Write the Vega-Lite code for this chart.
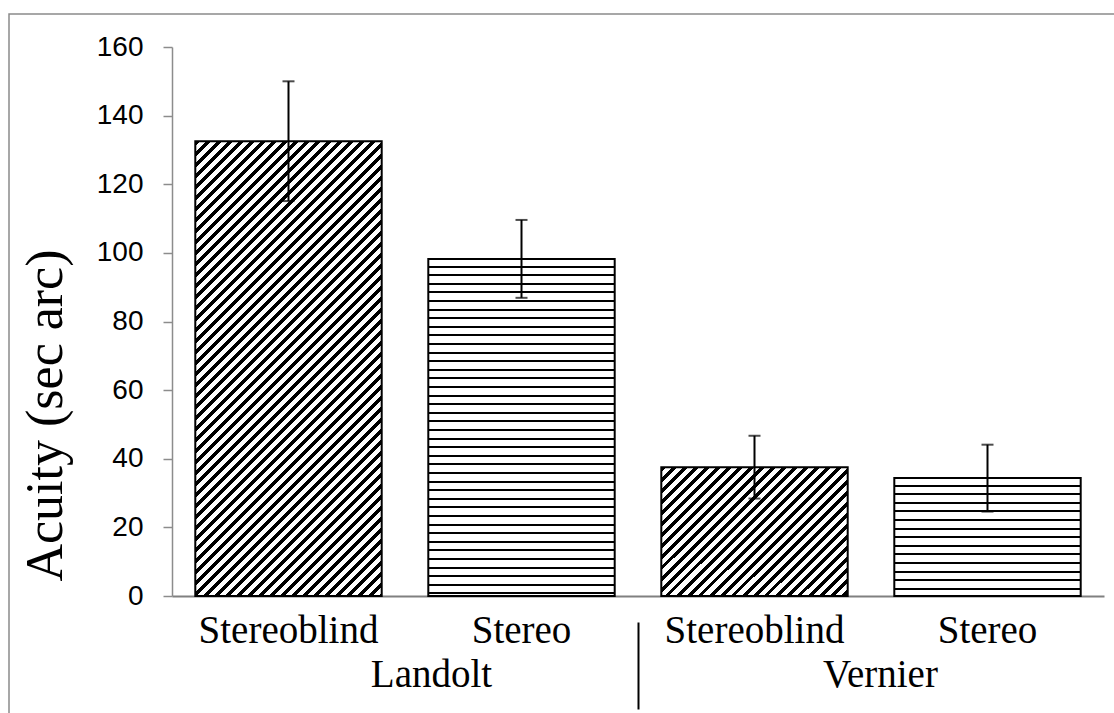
{
  "$schema": "https://vega.github.io/schema/vega-lite/v6.json",
  "width": 1106,
  "height": 700,
  "autosize": "none",
  "padding": {"left": 9, "top": 14, "right": 0, "bottom": 0},
  "background": "white",
  "config": {"view": {"stroke": "#8a8a8a", "strokeWidth": 1.5}},
  "layer": [
    {
      "data": {"values": [
        {"key": "Landolt|Stereoblind", "group": "Landolt", "cond": "Stereoblind", "mean": 132.5, "lo": 115.1, "hi": 150.0},
        {"key": "Landolt|Stereo", "group": "Landolt", "cond": "Stereo", "mean": 98.2, "lo": 86.9, "hi": 109.6},
        {"key": "Vernier|Stereoblind", "group": "Vernier", "cond": "Stereoblind", "mean": 37.5, "lo": 28.4, "hi": 46.7},
        {"key": "Vernier|Stereo", "group": "Vernier", "cond": "Stereo", "mean": 34.4, "lo": 24.6, "hi": 44.1}
      ]},
      "encoding": {
        "x": {"field": "key", "type": "nominal", "sort": null,
          "scale": {"range": [163, 1095], "paddingInner": 0.2, "paddingOuter": 0.1},
          "axis": {"orient": "bottom", "offset": -118, "title": null, "ticks": false, "domainColor": "#808080", "domainWidth": 2,
            "labelFont": "Liberation Serif", "labelFontSize": 39, "labelColor": "black", "labelPadding": 15, "labelAngle": 0,
            "labelExpr": "split(datum.label, '|')[1]"}},
        "y": {"field": "mean", "type": "quantitative",
          "scale": {"domain": [0, 160], "range": [582, 33], "nice": false},
          "axis": {"orient": "left", "offset": -163, "values": [0, 20, 40, 60, 80, 100, 120, 140, 160], "grid": false,
            "domainColor": "#8c8c8c", "domainWidth": 1.5, "tickColor": "#8c8c8c", "tickWidth": 1.5, "tickSize": 9,
            "labelFont": "Liberation Sans", "labelFontSize": 28, "labelColor": "black", "labelPadding": 20,
            "title": "Acuity (sec arc)", "titleFont": "Liberation Serif", "titleFontSize": 52, "titleFontWeight": "normal", "titleColor": "black",
            "titleX": -127, "titleY": 401, "titleAngle": -90, "titleAlign": "center", "titleBaseline": "middle"}}
      },
      "layer": [
        {
          "transform": [{"filter": "datum.key == 'Landolt|Stereoblind'"}],
          "mark": {"type": "bar", "stroke": "black", "strokeWidth": 2,
            "fill": {"gradient": "linear", "x1": 0, "y1": 0, "x2": 0.5096, "y2": 1.2429, "stops": [
{"offset":0,"color":"#000"},{"offset":0.0067,"color":"#000"},{"offset":0.0067,"color":"#fff"},{"offset":0.0167,"color":"#fff"},
{"offset":0.0167,"color":"#000"},{"offset":0.0233,"color":"#000"},{"offset":0.0233,"color":"#fff"},{"offset":0.0333,"color":"#fff"},
{"offset":0.0333,"color":"#000"},{"offset":0.04,"color":"#000"},{"offset":0.04,"color":"#fff"},{"offset":0.05,"color":"#fff"},
{"offset":0.05,"color":"#000"},{"offset":0.0567,"color":"#000"},{"offset":0.0567,"color":"#fff"},{"offset":0.0667,"color":"#fff"},
{"offset":0.0667,"color":"#000"},{"offset":0.0733,"color":"#000"},{"offset":0.0733,"color":"#fff"},{"offset":0.0833,"color":"#fff"},
{"offset":0.0833,"color":"#000"},{"offset":0.09,"color":"#000"},{"offset":0.09,"color":"#fff"},{"offset":0.1,"color":"#fff"},
{"offset":0.1,"color":"#000"},{"offset":0.1067,"color":"#000"},{"offset":0.1067,"color":"#fff"},{"offset":0.1167,"color":"#fff"},
{"offset":0.1167,"color":"#000"},{"offset":0.1233,"color":"#000"},{"offset":0.1233,"color":"#fff"},{"offset":0.1333,"color":"#fff"},
{"offset":0.1333,"color":"#000"},{"offset":0.14,"color":"#000"},{"offset":0.14,"color":"#fff"},{"offset":0.15,"color":"#fff"},
{"offset":0.15,"color":"#000"},{"offset":0.1567,"color":"#000"},{"offset":0.1567,"color":"#fff"},{"offset":0.1667,"color":"#fff"},
{"offset":0.1667,"color":"#000"},{"offset":0.1733,"color":"#000"},{"offset":0.1733,"color":"#fff"},{"offset":0.1833,"color":"#fff"},
{"offset":0.1833,"color":"#000"},{"offset":0.19,"color":"#000"},{"offset":0.19,"color":"#fff"},{"offset":0.2,"color":"#fff"},
{"offset":0.2,"color":"#000"},{"offset":0.2067,"color":"#000"},{"offset":0.2067,"color":"#fff"},{"offset":0.2167,"color":"#fff"},
{"offset":0.2167,"color":"#000"},{"offset":0.2233,"color":"#000"},{"offset":0.2233,"color":"#fff"},{"offset":0.2333,"color":"#fff"},
{"offset":0.2333,"color":"#000"},{"offset":0.24,"color":"#000"},{"offset":0.24,"color":"#fff"},{"offset":0.25,"color":"#fff"},
{"offset":0.25,"color":"#000"},{"offset":0.2567,"color":"#000"},{"offset":0.2567,"color":"#fff"},{"offset":0.2667,"color":"#fff"},
{"offset":0.2667,"color":"#000"},{"offset":0.2733,"color":"#000"},{"offset":0.2733,"color":"#fff"},{"offset":0.2833,"color":"#fff"},
{"offset":0.2833,"color":"#000"},{"offset":0.29,"color":"#000"},{"offset":0.29,"color":"#fff"},{"offset":0.3,"color":"#fff"},
{"offset":0.3,"color":"#000"},{"offset":0.3067,"color":"#000"},{"offset":0.3067,"color":"#fff"},{"offset":0.3167,"color":"#fff"},
{"offset":0.3167,"color":"#000"},{"offset":0.3233,"color":"#000"},{"offset":0.3233,"color":"#fff"},{"offset":0.3333,"color":"#fff"},
{"offset":0.3333,"color":"#000"},{"offset":0.34,"color":"#000"},{"offset":0.34,"color":"#fff"},{"offset":0.35,"color":"#fff"},
{"offset":0.35,"color":"#000"},{"offset":0.3567,"color":"#000"},{"offset":0.3567,"color":"#fff"},{"offset":0.3667,"color":"#fff"},
{"offset":0.3667,"color":"#000"},{"offset":0.3733,"color":"#000"},{"offset":0.3733,"color":"#fff"},{"offset":0.3833,"color":"#fff"},
{"offset":0.3833,"color":"#000"},{"offset":0.39,"color":"#000"},{"offset":0.39,"color":"#fff"},{"offset":0.4,"color":"#fff"},
{"offset":0.4,"color":"#000"},{"offset":0.4067,"color":"#000"},{"offset":0.4067,"color":"#fff"},{"offset":0.4167,"color":"#fff"},
{"offset":0.4167,"color":"#000"},{"offset":0.4233,"color":"#000"},{"offset":0.4233,"color":"#fff"},{"offset":0.4333,"color":"#fff"},
{"offset":0.4333,"color":"#000"},{"offset":0.44,"color":"#000"},{"offset":0.44,"color":"#fff"},{"offset":0.45,"color":"#fff"},
{"offset":0.45,"color":"#000"},{"offset":0.4567,"color":"#000"},{"offset":0.4567,"color":"#fff"},{"offset":0.4667,"color":"#fff"},
{"offset":0.4667,"color":"#000"},{"offset":0.4733,"color":"#000"},{"offset":0.4733,"color":"#fff"},{"offset":0.4833,"color":"#fff"},
{"offset":0.4833,"color":"#000"},{"offset":0.49,"color":"#000"},{"offset":0.49,"color":"#fff"},{"offset":0.5,"color":"#fff"},
{"offset":0.5,"color":"#000"},{"offset":0.5067,"color":"#000"},{"offset":0.5067,"color":"#fff"},{"offset":0.5167,"color":"#fff"},
{"offset":0.5167,"color":"#000"},{"offset":0.5233,"color":"#000"},{"offset":0.5233,"color":"#fff"},{"offset":0.5333,"color":"#fff"},
{"offset":0.5333,"color":"#000"},{"offset":0.54,"color":"#000"},{"offset":0.54,"color":"#fff"},{"offset":0.55,"color":"#fff"},
{"offset":0.55,"color":"#000"},{"offset":0.5567,"color":"#000"},{"offset":0.5567,"color":"#fff"},{"offset":0.5667,"color":"#fff"},
{"offset":0.5667,"color":"#000"},{"offset":0.5733,"color":"#000"},{"offset":0.5733,"color":"#fff"},{"offset":0.5833,"color":"#fff"},
{"offset":0.5833,"color":"#000"},{"offset":0.59,"color":"#000"},{"offset":0.59,"color":"#fff"},{"offset":0.6,"color":"#fff"},
{"offset":0.6,"color":"#000"},{"offset":0.6067,"color":"#000"},{"offset":0.6067,"color":"#fff"},{"offset":0.6167,"color":"#fff"},
{"offset":0.6167,"color":"#000"},{"offset":0.6233,"color":"#000"},{"offset":0.6233,"color":"#fff"},{"offset":0.6333,"color":"#fff"},
{"offset":0.6333,"color":"#000"},{"offset":0.64,"color":"#000"},{"offset":0.64,"color":"#fff"},{"offset":0.65,"color":"#fff"},
{"offset":0.65,"color":"#000"},{"offset":0.6567,"color":"#000"},{"offset":0.6567,"color":"#fff"},{"offset":0.6667,"color":"#fff"},
{"offset":0.6667,"color":"#000"},{"offset":0.6733,"color":"#000"},{"offset":0.6733,"color":"#fff"},{"offset":0.6833,"color":"#fff"},
{"offset":0.6833,"color":"#000"},{"offset":0.69,"color":"#000"},{"offset":0.69,"color":"#fff"},{"offset":0.7,"color":"#fff"},
{"offset":0.7,"color":"#000"},{"offset":0.7067,"color":"#000"},{"offset":0.7067,"color":"#fff"},{"offset":0.7167,"color":"#fff"},
{"offset":0.7167,"color":"#000"},{"offset":0.7233,"color":"#000"},{"offset":0.7233,"color":"#fff"},{"offset":0.7333,"color":"#fff"},
{"offset":0.7333,"color":"#000"},{"offset":0.74,"color":"#000"},{"offset":0.74,"color":"#fff"},{"offset":0.75,"color":"#fff"},
{"offset":0.75,"color":"#000"},{"offset":0.7567,"color":"#000"},{"offset":0.7567,"color":"#fff"},{"offset":0.7667,"color":"#fff"},
{"offset":0.7667,"color":"#000"},{"offset":0.7733,"color":"#000"},{"offset":0.7733,"color":"#fff"},{"offset":0.7833,"color":"#fff"},
{"offset":0.7833,"color":"#000"},{"offset":0.79,"color":"#000"},{"offset":0.79,"color":"#fff"},{"offset":0.8,"color":"#fff"},
{"offset":0.8,"color":"#000"},{"offset":0.8067,"color":"#000"},{"offset":0.8067,"color":"#fff"},{"offset":0.8167,"color":"#fff"},
{"offset":0.8167,"color":"#000"},{"offset":0.8233,"color":"#000"},{"offset":0.8233,"color":"#fff"},{"offset":0.8333,"color":"#fff"},
{"offset":0.8333,"color":"#000"},{"offset":0.84,"color":"#000"},{"offset":0.84,"color":"#fff"},{"offset":0.85,"color":"#fff"},
{"offset":0.85,"color":"#000"},{"offset":0.8567,"color":"#000"},{"offset":0.8567,"color":"#fff"},{"offset":0.8667,"color":"#fff"},
{"offset":0.8667,"color":"#000"},{"offset":0.8733,"color":"#000"},{"offset":0.8733,"color":"#fff"},{"offset":0.8833,"color":"#fff"},
{"offset":0.8833,"color":"#000"},{"offset":0.89,"color":"#000"},{"offset":0.89,"color":"#fff"},{"offset":0.9,"color":"#fff"},
{"offset":0.9,"color":"#000"},{"offset":0.9067,"color":"#000"},{"offset":0.9067,"color":"#fff"},{"offset":0.9167,"color":"#fff"},
{"offset":0.9167,"color":"#000"},{"offset":0.9233,"color":"#000"},{"offset":0.9233,"color":"#fff"},{"offset":0.9333,"color":"#fff"},
{"offset":0.9333,"color":"#000"},{"offset":0.94,"color":"#000"},{"offset":0.94,"color":"#fff"},{"offset":0.95,"color":"#fff"},
{"offset":0.95,"color":"#000"},{"offset":0.9567,"color":"#000"},{"offset":0.9567,"color":"#fff"},{"offset":0.9667,"color":"#fff"},
{"offset":0.9667,"color":"#000"},{"offset":0.9733,"color":"#000"},{"offset":0.9733,"color":"#fff"},{"offset":0.9833,"color":"#fff"},
{"offset":0.9833,"color":"#000"},{"offset":0.99,"color":"#000"},{"offset":0.99,"color":"#fff"},{"offset":1,"color":"#fff"}
            ]}}
        },
        {
          "transform": [{"filter": "datum.key == 'Landolt|Stereo'"}],
          "mark": {"type": "bar", "stroke": "black", "strokeWidth": 2,
            "fill": {"gradient": "linear", "x1": 0, "y1": 0, "x2": 0, "y2": 1.021, "stops": [
{"offset":0,"color":"#fff"},
{"offset":0.019,"color":"#fff"},{"offset":0.019,"color":"#000"},{"offset":0.025,"color":"#000"},{"offset":0.025,"color":"#fff"},
{"offset":0.044,"color":"#fff"},{"offset":0.044,"color":"#000"},{"offset":0.05,"color":"#000"},{"offset":0.05,"color":"#fff"},
{"offset":0.069,"color":"#fff"},{"offset":0.069,"color":"#000"},{"offset":0.075,"color":"#000"},{"offset":0.075,"color":"#fff"},
{"offset":0.094,"color":"#fff"},{"offset":0.094,"color":"#000"},{"offset":0.1,"color":"#000"},{"offset":0.1,"color":"#fff"},
{"offset":0.119,"color":"#fff"},{"offset":0.119,"color":"#000"},{"offset":0.125,"color":"#000"},{"offset":0.125,"color":"#fff"},
{"offset":0.144,"color":"#fff"},{"offset":0.144,"color":"#000"},{"offset":0.15,"color":"#000"},{"offset":0.15,"color":"#fff"},
{"offset":0.169,"color":"#fff"},{"offset":0.169,"color":"#000"},{"offset":0.175,"color":"#000"},{"offset":0.175,"color":"#fff"},
{"offset":0.194,"color":"#fff"},{"offset":0.194,"color":"#000"},{"offset":0.2,"color":"#000"},{"offset":0.2,"color":"#fff"},
{"offset":0.219,"color":"#fff"},{"offset":0.219,"color":"#000"},{"offset":0.225,"color":"#000"},{"offset":0.225,"color":"#fff"},
{"offset":0.244,"color":"#fff"},{"offset":0.244,"color":"#000"},{"offset":0.25,"color":"#000"},{"offset":0.25,"color":"#fff"},
{"offset":0.269,"color":"#fff"},{"offset":0.269,"color":"#000"},{"offset":0.275,"color":"#000"},{"offset":0.275,"color":"#fff"},
{"offset":0.294,"color":"#fff"},{"offset":0.294,"color":"#000"},{"offset":0.3,"color":"#000"},{"offset":0.3,"color":"#fff"},
{"offset":0.319,"color":"#fff"},{"offset":0.319,"color":"#000"},{"offset":0.325,"color":"#000"},{"offset":0.325,"color":"#fff"},
{"offset":0.344,"color":"#fff"},{"offset":0.344,"color":"#000"},{"offset":0.35,"color":"#000"},{"offset":0.35,"color":"#fff"},
{"offset":0.369,"color":"#fff"},{"offset":0.369,"color":"#000"},{"offset":0.375,"color":"#000"},{"offset":0.375,"color":"#fff"},
{"offset":0.394,"color":"#fff"},{"offset":0.394,"color":"#000"},{"offset":0.4,"color":"#000"},{"offset":0.4,"color":"#fff"},
{"offset":0.419,"color":"#fff"},{"offset":0.419,"color":"#000"},{"offset":0.425,"color":"#000"},{"offset":0.425,"color":"#fff"},
{"offset":0.444,"color":"#fff"},{"offset":0.444,"color":"#000"},{"offset":0.45,"color":"#000"},{"offset":0.45,"color":"#fff"},
{"offset":0.469,"color":"#fff"},{"offset":0.469,"color":"#000"},{"offset":0.475,"color":"#000"},{"offset":0.475,"color":"#fff"},
{"offset":0.494,"color":"#fff"},{"offset":0.494,"color":"#000"},{"offset":0.5,"color":"#000"},{"offset":0.5,"color":"#fff"},
{"offset":0.519,"color":"#fff"},{"offset":0.519,"color":"#000"},{"offset":0.525,"color":"#000"},{"offset":0.525,"color":"#fff"},
{"offset":0.544,"color":"#fff"},{"offset":0.544,"color":"#000"},{"offset":0.55,"color":"#000"},{"offset":0.55,"color":"#fff"},
{"offset":0.569,"color":"#fff"},{"offset":0.569,"color":"#000"},{"offset":0.575,"color":"#000"},{"offset":0.575,"color":"#fff"},
{"offset":0.594,"color":"#fff"},{"offset":0.594,"color":"#000"},{"offset":0.6,"color":"#000"},{"offset":0.6,"color":"#fff"},
{"offset":0.619,"color":"#fff"},{"offset":0.619,"color":"#000"},{"offset":0.625,"color":"#000"},{"offset":0.625,"color":"#fff"},
{"offset":0.644,"color":"#fff"},{"offset":0.644,"color":"#000"},{"offset":0.65,"color":"#000"},{"offset":0.65,"color":"#fff"},
{"offset":0.669,"color":"#fff"},{"offset":0.669,"color":"#000"},{"offset":0.675,"color":"#000"},{"offset":0.675,"color":"#fff"},
{"offset":0.694,"color":"#fff"},{"offset":0.694,"color":"#000"},{"offset":0.7,"color":"#000"},{"offset":0.7,"color":"#fff"},
{"offset":0.719,"color":"#fff"},{"offset":0.719,"color":"#000"},{"offset":0.725,"color":"#000"},{"offset":0.725,"color":"#fff"},
{"offset":0.744,"color":"#fff"},{"offset":0.744,"color":"#000"},{"offset":0.75,"color":"#000"},{"offset":0.75,"color":"#fff"},
{"offset":0.769,"color":"#fff"},{"offset":0.769,"color":"#000"},{"offset":0.775,"color":"#000"},{"offset":0.775,"color":"#fff"},
{"offset":0.794,"color":"#fff"},{"offset":0.794,"color":"#000"},{"offset":0.8,"color":"#000"},{"offset":0.8,"color":"#fff"},
{"offset":0.819,"color":"#fff"},{"offset":0.819,"color":"#000"},{"offset":0.825,"color":"#000"},{"offset":0.825,"color":"#fff"},
{"offset":0.844,"color":"#fff"},{"offset":0.844,"color":"#000"},{"offset":0.85,"color":"#000"},{"offset":0.85,"color":"#fff"},
{"offset":0.869,"color":"#fff"},{"offset":0.869,"color":"#000"},{"offset":0.875,"color":"#000"},{"offset":0.875,"color":"#fff"},
{"offset":0.894,"color":"#fff"},{"offset":0.894,"color":"#000"},{"offset":0.9,"color":"#000"},{"offset":0.9,"color":"#fff"},
{"offset":0.919,"color":"#fff"},{"offset":0.919,"color":"#000"},{"offset":0.925,"color":"#000"},{"offset":0.925,"color":"#fff"},
{"offset":0.944,"color":"#fff"},{"offset":0.944,"color":"#000"},{"offset":0.95,"color":"#000"},{"offset":0.95,"color":"#fff"},
{"offset":0.969,"color":"#fff"},{"offset":0.969,"color":"#000"},{"offset":0.975,"color":"#000"},{"offset":0.975,"color":"#fff"},
{"offset":1,"color":"#fff"}
            ]}}
        },
        {
          "transform": [{"filter": "datum.key == 'Vernier|Stereoblind'"}],
          "mark": {"type": "bar", "stroke": "black", "strokeWidth": 2,
            "fill": {"gradient": "linear", "x1": 0, "y1": 0, "x2": 1.1989, "y2": 0.8278, "stops": [
{"offset":0,"color":"#000"},{"offset":0.0133,"color":"#000"},{"offset":0.0133,"color":"#fff"},{"offset":0.0333,"color":"#fff"},
{"offset":0.0333,"color":"#000"},{"offset":0.0467,"color":"#000"},{"offset":0.0467,"color":"#fff"},{"offset":0.0667,"color":"#fff"},
{"offset":0.0667,"color":"#000"},{"offset":0.08,"color":"#000"},{"offset":0.08,"color":"#fff"},{"offset":0.1,"color":"#fff"},
{"offset":0.1,"color":"#000"},{"offset":0.1133,"color":"#000"},{"offset":0.1133,"color":"#fff"},{"offset":0.1333,"color":"#fff"},
{"offset":0.1333,"color":"#000"},{"offset":0.1467,"color":"#000"},{"offset":0.1467,"color":"#fff"},{"offset":0.1667,"color":"#fff"},
{"offset":0.1667,"color":"#000"},{"offset":0.18,"color":"#000"},{"offset":0.18,"color":"#fff"},{"offset":0.2,"color":"#fff"},
{"offset":0.2,"color":"#000"},{"offset":0.2133,"color":"#000"},{"offset":0.2133,"color":"#fff"},{"offset":0.2333,"color":"#fff"},
{"offset":0.2333,"color":"#000"},{"offset":0.2467,"color":"#000"},{"offset":0.2467,"color":"#fff"},{"offset":0.2667,"color":"#fff"},
{"offset":0.2667,"color":"#000"},{"offset":0.28,"color":"#000"},{"offset":0.28,"color":"#fff"},{"offset":0.3,"color":"#fff"},
{"offset":0.3,"color":"#000"},{"offset":0.3133,"color":"#000"},{"offset":0.3133,"color":"#fff"},{"offset":0.3333,"color":"#fff"},
{"offset":0.3333,"color":"#000"},{"offset":0.3467,"color":"#000"},{"offset":0.3467,"color":"#fff"},{"offset":0.3667,"color":"#fff"},
{"offset":0.3667,"color":"#000"},{"offset":0.38,"color":"#000"},{"offset":0.38,"color":"#fff"},{"offset":0.4,"color":"#fff"},
{"offset":0.4,"color":"#000"},{"offset":0.4133,"color":"#000"},{"offset":0.4133,"color":"#fff"},{"offset":0.4333,"color":"#fff"},
{"offset":0.4333,"color":"#000"},{"offset":0.4467,"color":"#000"},{"offset":0.4467,"color":"#fff"},{"offset":0.4667,"color":"#fff"},
{"offset":0.4667,"color":"#000"},{"offset":0.48,"color":"#000"},{"offset":0.48,"color":"#fff"},{"offset":0.5,"color":"#fff"},
{"offset":0.5,"color":"#000"},{"offset":0.5133,"color":"#000"},{"offset":0.5133,"color":"#fff"},{"offset":0.5333,"color":"#fff"},
{"offset":0.5333,"color":"#000"},{"offset":0.5467,"color":"#000"},{"offset":0.5467,"color":"#fff"},{"offset":0.5667,"color":"#fff"},
{"offset":0.5667,"color":"#000"},{"offset":0.58,"color":"#000"},{"offset":0.58,"color":"#fff"},{"offset":0.6,"color":"#fff"},
{"offset":0.6,"color":"#000"},{"offset":0.6133,"color":"#000"},{"offset":0.6133,"color":"#fff"},{"offset":0.6333,"color":"#fff"},
{"offset":0.6333,"color":"#000"},{"offset":0.6467,"color":"#000"},{"offset":0.6467,"color":"#fff"},{"offset":0.6667,"color":"#fff"},
{"offset":0.6667,"color":"#000"},{"offset":0.68,"color":"#000"},{"offset":0.68,"color":"#fff"},{"offset":0.7,"color":"#fff"},
{"offset":0.7,"color":"#000"},{"offset":0.7133,"color":"#000"},{"offset":0.7133,"color":"#fff"},{"offset":0.7333,"color":"#fff"},
{"offset":0.7333,"color":"#000"},{"offset":0.7467,"color":"#000"},{"offset":0.7467,"color":"#fff"},{"offset":0.7667,"color":"#fff"},
{"offset":0.7667,"color":"#000"},{"offset":0.78,"color":"#000"},{"offset":0.78,"color":"#fff"},{"offset":0.8,"color":"#fff"},
{"offset":0.8,"color":"#000"},{"offset":0.8133,"color":"#000"},{"offset":0.8133,"color":"#fff"},{"offset":0.8333,"color":"#fff"},
{"offset":0.8333,"color":"#000"},{"offset":0.8467,"color":"#000"},{"offset":0.8467,"color":"#fff"},{"offset":0.8667,"color":"#fff"},
{"offset":0.8667,"color":"#000"},{"offset":0.88,"color":"#000"},{"offset":0.88,"color":"#fff"},{"offset":0.9,"color":"#fff"},
{"offset":0.9,"color":"#000"},{"offset":0.9133,"color":"#000"},{"offset":0.9133,"color":"#fff"},{"offset":0.9333,"color":"#fff"},
{"offset":0.9333,"color":"#000"},{"offset":0.9467,"color":"#000"},{"offset":0.9467,"color":"#fff"},{"offset":0.9667,"color":"#fff"},
{"offset":0.9667,"color":"#000"},{"offset":0.98,"color":"#000"},{"offset":0.98,"color":"#fff"},{"offset":1,"color":"#fff"}
            ]}}
        },
        {
          "transform": [{"filter": "datum.key == 'Vernier|Stereo'"}],
          "mark": {"type": "bar", "stroke": "black", "strokeWidth": 2,
            "fill": {"gradient": "linear", "x1": 0, "y1": 0, "x2": 0, "y2": 1.4576, "stops": [
{"offset":0,"color":"#fff"},
{"offset":0.038,"color":"#fff"},{"offset":0.038,"color":"#000"},{"offset":0.05,"color":"#000"},{"offset":0.05,"color":"#fff"},
{"offset":0.088,"color":"#fff"},{"offset":0.088,"color":"#000"},{"offset":0.1,"color":"#000"},{"offset":0.1,"color":"#fff"},
{"offset":0.138,"color":"#fff"},{"offset":0.138,"color":"#000"},{"offset":0.15,"color":"#000"},{"offset":0.15,"color":"#fff"},
{"offset":0.188,"color":"#fff"},{"offset":0.188,"color":"#000"},{"offset":0.2,"color":"#000"},{"offset":0.2,"color":"#fff"},
{"offset":0.238,"color":"#fff"},{"offset":0.238,"color":"#000"},{"offset":0.25,"color":"#000"},{"offset":0.25,"color":"#fff"},
{"offset":0.288,"color":"#fff"},{"offset":0.288,"color":"#000"},{"offset":0.3,"color":"#000"},{"offset":0.3,"color":"#fff"},
{"offset":0.338,"color":"#fff"},{"offset":0.338,"color":"#000"},{"offset":0.35,"color":"#000"},{"offset":0.35,"color":"#fff"},
{"offset":0.388,"color":"#fff"},{"offset":0.388,"color":"#000"},{"offset":0.4,"color":"#000"},{"offset":0.4,"color":"#fff"},
{"offset":0.438,"color":"#fff"},{"offset":0.438,"color":"#000"},{"offset":0.45,"color":"#000"},{"offset":0.45,"color":"#fff"},
{"offset":0.488,"color":"#fff"},{"offset":0.488,"color":"#000"},{"offset":0.5,"color":"#000"},{"offset":0.5,"color":"#fff"},
{"offset":0.538,"color":"#fff"},{"offset":0.538,"color":"#000"},{"offset":0.55,"color":"#000"},{"offset":0.55,"color":"#fff"},
{"offset":0.588,"color":"#fff"},{"offset":0.588,"color":"#000"},{"offset":0.6,"color":"#000"},{"offset":0.6,"color":"#fff"},
{"offset":0.638,"color":"#fff"},{"offset":0.638,"color":"#000"},{"offset":0.65,"color":"#000"},{"offset":0.65,"color":"#fff"},
{"offset":1,"color":"#fff"}
            ]}}
        },
        {
          "mark": {"type": "rule", "color": "black", "strokeWidth": 2},
          "encoding": {"y": {"field": "lo", "type": "quantitative"}, "y2": {"field": "hi"}}
        },
        {
          "mark": {"type": "tick", "color": "black", "thickness": 2, "size": 12},
          "encoding": {"y": {"field": "lo", "type": "quantitative"}}
        },
        {
          "mark": {"type": "tick", "color": "black", "thickness": 2, "size": 12},
          "encoding": {"y": {"field": "hi", "type": "quantitative"}}
        }
      ]
    },
    {
      "data": {"values": [{"group": "Landolt"}, {"group": "Vernier"}]},
      "mark": {"type": "point", "opacity": 0},
      "encoding": {
        "x": {"field": "group", "type": "nominal", "sort": null,
          "scale": {"range": [163, 1095], "paddingInner": 0, "paddingOuter": 0},
          "axis": {"orient": "bottom", "offset": -92, "title": null, "domain": false, "tickBand": "extent",
            "tickSize": 87, "tickColor": "black", "tickWidth": 2,
            "tickOpacity": {"condition": {"test": "datum.value == 'Landolt'", "value": 1}, "value": 0},
            "labelFont": "Liberation Serif", "labelFontSize": 39, "labelColor": "black", "labelPadding": -54, "labelAngle": 0,
            "labelOffset": {"condition": {"test": "datum.value == 'Landolt'", "value": 26}, "value": 9}}}
      }
    }
  ],
  "resolve": {"scale": {"x": "independent"}, "axis": {"x": "independent"}}
}
